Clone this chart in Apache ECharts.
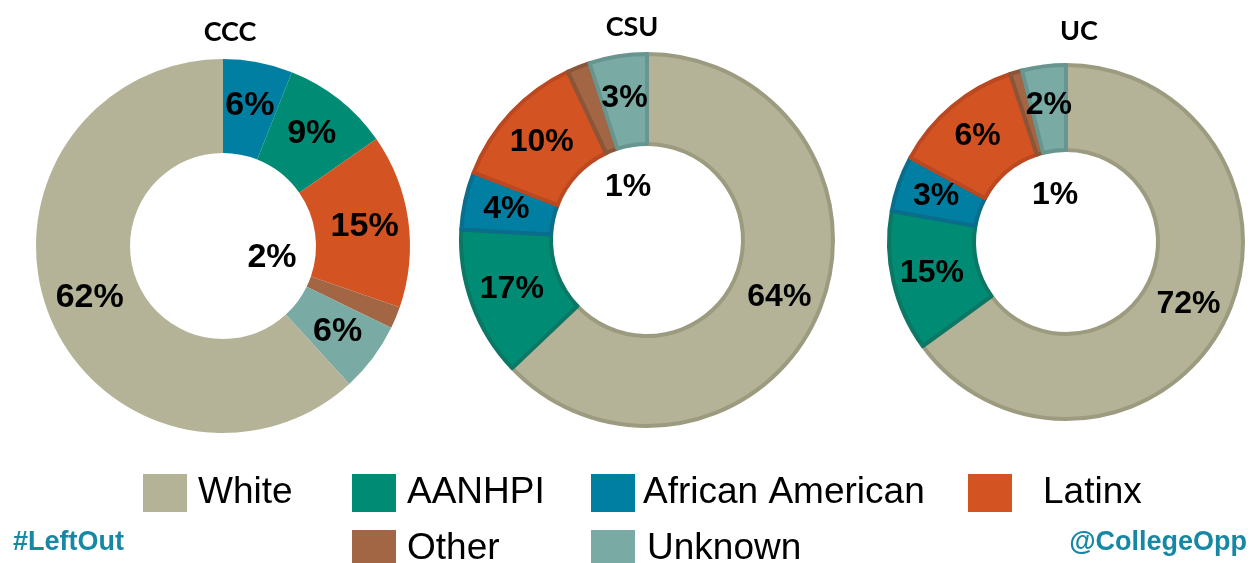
<!DOCTYPE html>
<html>
<head>
<meta charset="utf-8">
<title>CCC / CSU / UC</title>
<script src="https://cdn.jsdelivr.net/npm/echarts@6/dist/echarts.min.js"></script>
<style>
  html, body { margin: 0; padding: 0; background: #fff; }
  #chart { width: 1255px; height: 563px; }
</style>
</head>
<body>
<div id="chart"></div>
<script>
// categories and colours
const categories = ["White", "AANHPI", "African American", "Latinx", "Other", "Unknown"];
const fillColors = ["#b4b397", "#008c74", "#007fa3", "#d35322", "#a36644", "#79aaa4"];
const edgeColors = ["#9c9b80", "#0b7764", "#0a6d8b", "#bb4820", "#8a5538", "#68958f"];

// CCC (slice order clockwise from 12 o'clock)
const cccNames = ["African American", "AANHPI", "Latinx", "Other", "Unknown", "White"];
const cccValues = [6, 9.3, 15, 1.9, 6, 61.8];
const cccLabels = ["6%", "9%", "15%", "2%", "6%", "62%"];

// CSU
const csuNames = ["White", "AANHPI", "African American", "Latinx", "Other", "Unknown"];
const csuValues = [62.9, 13, 5, 12.1, 2, 5];
const csuLabels = ["64%", "17%", "4%", "10%", "1%", "3%"];

// UC
const ucNames = ["White", "AANHPI", "African American", "Latinx", "Other", "Unknown"];
const ucValues = [65, 12.8, 5.1, 12, 1.1, 4];
const ucLabels = ["72%", "15%", "3%", "6%", "1%", "2%"];

const chart = echarts.init(document.getElementById("chart"));

function colorOf(name) { return fillColors[categories.indexOf(name)]; }
function edgeOf(name) { return edgeColors[categories.indexOf(name)]; }

function makePie(id, names, values, labels, center, radius, bordered, fontSize, otherShift) {
    const otherIdx = names.indexOf("Other");
    return {
        type: "pie",
        id: id,
        center: center,
        radius: radius,
        startAngle: 90,
        clockwise: true,
        avoidLabelOverlap: false,
        silent: true,
        animation: false,
        labelLine: { show: false },
        label: {
            show: true,
            position: "inside",
            color: "#000",
            fontFamily: "Liberation Sans, Arial, sans-serif",
            fontWeight: "bold",
            fontSize: fontSize,
            textBorderWidth: 0,
            formatter: (p) => labels[p.dataIndex]
        },
        labelLayout: (p) => (p.dataIndex === otherIdx ? { dx: otherShift[0], dy: otherShift[1] } : {}),
        data: names.map((n, i) => ({
            name: n,
            value: values[i],
            itemStyle: {
                color: colorOf(n),
                borderColor: bordered ? edgeOf(n) : "transparent",
                borderWidth: bordered ? 4 : 0
            },
            label: i === otherIdx ? { position: "center" } : undefined
        }))
    };
}

// legend slots: [name, left, top, text gap]
const legendSlots = [
    ["White", 143, 474, 6],
    ["AANHPI", 352, 474, 6],
    ["African American", 591, 474, 3],
    ["Latinx", 968, 474, 26],
    ["Other", 352, 530, 6],
    ["Unknown", 591, 530, 7]
];

const legends = legendSlots.map((s) => ({
    data: [s[0]],
    left: s[1],
    top: s[2],
    padding: 0,
    orient: "horizontal",
    icon: "rect",
    itemWidth: 44,
    itemHeight: 38,
    selectedMode: false,
    itemStyle: { borderWidth: 0 },
    textStyle: {
        color: "#000",
        fontFamily: "Liberation Sans, Arial, sans-serif",
        fontSize: 37,
        lineHeight: 38,
        padding: [0, 0, 0, s[3]]
    }
}));

function titleText(text, x, y) {
    return {
        type: "text",
        x: x,
        y: y,
        style: {
            text: text,
            font: "bold 27px Lato, 'Open Sans', sans-serif",
            fill: "#000",
            textAlign: "center",
            textVerticalAlign: "middle",
            align: "center",
            verticalAlign: "middle"
        }
    };
}

function footText(text, x, align) {
    return {
        type: "text",
        x: x,
        y: 543,
        style: {
            text: text,
            font: "bold 27px 'Liberation Sans', Arial, sans-serif",
            fill: "#1787a6",
            textAlign: align,
            textVerticalAlign: "middle",
            align: align,
            verticalAlign: "middle"
        }
    };
}

const option = {
    backgroundColor: "#ffffff",
    animation: false,
    legend: legends,
    graphic: [
        titleText("CCC", 230, 32),
        titleText("CSU", 632, 27),
        titleText("UC", 1079, 31),
        footText("#LeftOut", 13, "left"),
        footText("@CollegeOpp", 1247, "right")
    ],
    series: [
        makePie("ccc", cccNames, cccValues, cccLabels, [223, 246], [93, 187], false, 34, [49, 12]),
        makePie("csu", csuNames, csuValues, csuLabels, [647, 240], [96, 186], true, 32, [-19, -53]),
        makePie("uc", ucNames, ucValues, ucLabels, [1066, 242], [92, 177], true, 32, [-11, -47])
    ]
};

chart.setOption(option);
window.addEventListener("resize", () => chart.resize());
</script>
</body>
</html>
